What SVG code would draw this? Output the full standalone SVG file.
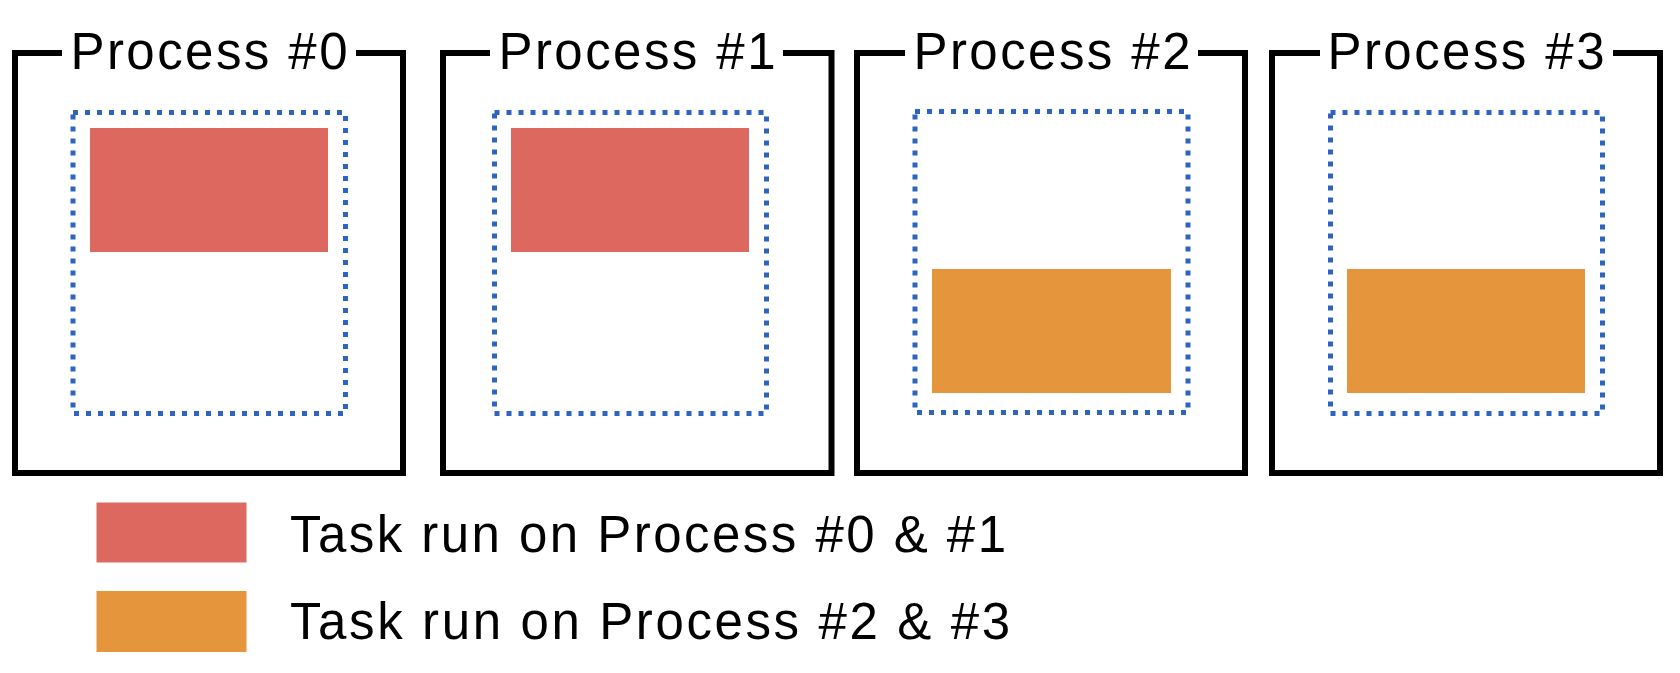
<svg xmlns="http://www.w3.org/2000/svg" width="1680" height="673" viewBox="0 0 1680 673">
<style>
.proc{fill:none;stroke:#000;stroke-width:6;stroke-linejoin:miter;stroke-linecap:butt}
.pool{fill:none;stroke:#2c64c0;stroke-width:5;stroke-dasharray:5 7}
.red{fill:#dc685f}
.orange{fill:#e5953c}
.title{font-family:"Liberation Sans",Arial,sans-serif;font-size:51px;fill:#000;text-anchor:middle}
.leg{font-family:"Liberation Sans",Arial,sans-serif;font-size:51px;fill:#000}
</style>
<rect width="1680" height="673" fill="#fff"/>
<g id="process0">
<path class="proc" d="M62 53 H15 V473 H403 V53 H356"/>
<text class="title" x="209" y="69" textLength="277" lengthAdjust="spacing">Process #0</text>
<rect class="pool" x="73" y="112.5" width="272.5" height="301"/>
<rect class="red" x="90" y="128" width="238" height="124"/>
</g>
<g id="process1">
<path class="proc" d="M490 53 H443 V473 H831.5 V53 H783"/>
<text class="title" x="637" y="69" textLength="277" lengthAdjust="spacing">Process #1</text>
<rect class="pool" x="494.5" y="112.5" width="272" height="301"/>
<rect class="red" x="511" y="128" width="238" height="124"/>
</g>
<g id="process2">
<path class="proc" d="M905 53 H857 V473 H1245 V53 H1198"/>
<text class="title" x="1052" y="69" textLength="277" lengthAdjust="spacing">Process #2</text>
<rect class="pool" x="915" y="111.5" width="273" height="301"/>
<rect class="orange" x="932" y="269" width="239" height="124"/>
</g>
<g id="process3">
<path class="proc" d="M1320 53 H1272 V473 H1660 V53 H1613"/>
<text class="title" x="1466" y="69" textLength="277" lengthAdjust="spacing">Process #3</text>
<rect class="pool" x="1330.5" y="112.5" width="272" height="301"/>
<rect class="orange" x="1347" y="269" width="238" height="124"/>
</g>
<g id="legend">
<rect class="red" x="96.5" y="502.5" width="150" height="60"/>
<text class="leg" x="290" y="551.5" textLength="716" lengthAdjust="spacing">Task run on Process #0 &amp; #1</text>
<rect class="orange" x="96.5" y="591" width="150" height="61"/>
<text class="leg" x="290" y="638.5" textLength="720" lengthAdjust="spacing">Task run on Process #2 &amp; #3</text>
</g>
<g id="connectors"/>
</svg>
